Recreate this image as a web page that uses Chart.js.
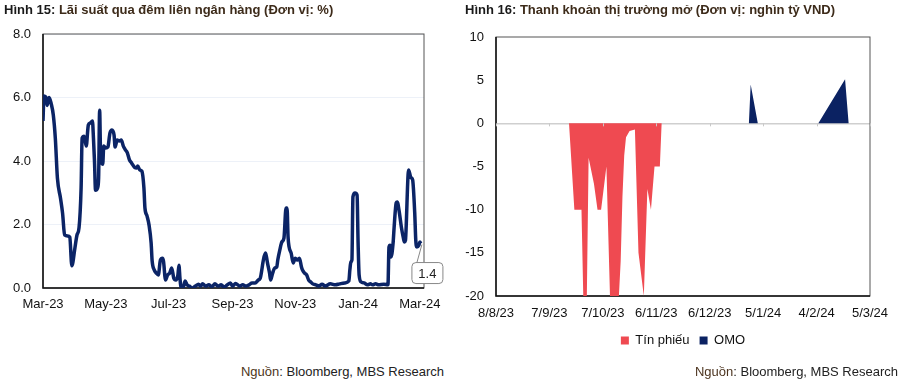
<!DOCTYPE html>
<html>
<head>
<meta charset="utf-8">
<script src="https://cdn.jsdelivr.net/npm/chart.js@4.4.1/dist/chart.umd.min.js"></script>
<style>
  body { margin: 0; width: 920px; height: 386px; background: #fff; position: relative; overflow: hidden;
         font-family: "Liberation Sans", Arial, sans-serif; }
  canvas { position: absolute; top: 0; }
  .title { position: absolute; top: 2px; font-weight: bold; font-size: 13px; color: #3d2b1a; white-space: nowrap; z-index: 2; }
  .title b { color: #1a1a1a; }
  .src { position: absolute; top: 364px; font-size: 13px; color: #222; white-space: nowrap; z-index: 2; }
  .src span { color: #4d3520; }
</style>
</head>
<body>
<canvas id="rate" width="460" height="330" style="left:0"></canvas>
<canvas id="flow" width="460" height="386" style="left:460px"></canvas>
<div class="title" style="left:4px"><b>Hình 15:</b> Lãi suất qua đêm liên ngân hàng (Đơn vị: %)</div>
<div class="title" style="left:465px"><b>Hình 16:</b> Thanh khoản thị trường mở (Đơn vị: nghìn tỷ VND)</div>
<div class="src" style="right:476px"><span>Nguồn</span>: Bloomberg, MBS Research</div>
<div class="src" style="right:22px"><span>Nguồn</span>: Bloomberg, MBS Research</div>
<script>
// Hình 15: interbank overnight rate, days counted from 1 Mar 2023
const RATE_START = '2023-03-01';
const rateDay = [0, 1, 3, 4, 6, 8, 10, 12, 14, 17, 19, 21, 24, 26, 28, 31, 33, 35, 37, 38,
  40, 42, 44, 46, 48, 49, 50, 51, 53, 54, 55, 56, 58, 59, 61, 63, 65, 67, 69, 70,
  72, 74, 76, 78, 80, 82, 84, 86, 89, 91, 92, 94, 96, 98, 99, 101, 103, 105, 106, 108,
  110, 112, 114, 116, 117, 119, 121, 123, 125, 127, 129, 131, 132, 133, 134, 136, 138, 140, 142, 145,
  148, 151, 153, 155, 158, 161, 164, 167, 170, 173, 176, 179, 182, 184, 187, 191, 194, 197, 200, 203,
  206, 209, 211, 212, 214, 216, 217, 218, 220, 221, 223, 225, 227, 228, 230, 232, 234, 236, 237, 238,
  239, 241, 243, 245, 247, 249, 251, 252, 254, 256, 258, 260, 262, 265, 268, 271, 274, 279, 284, 288,
  293, 297, 298, 299, 300, 301, 303, 305, 306, 307, 309, 312, 315, 318, 320, 323, 326, 331, 335, 336,
  337, 338, 340, 341, 343, 344, 346, 348, 350, 351, 352, 353, 354, 355, 357, 358, 359, 361, 362, 363,
  365, 366, 367];
const rateValue = [5.26, 6.05, 6.0, 5.75, 6.0, 5.8, 5.45, 4.7, 3.46, 2.83, 2.36, 1.67, 1.64, 1.6, 0.7, 1.26, 1.67, 1.9, 3.15, 4.72,
  4.78, 4.47, 5.13, 5.2, 5.26, 4.72, 4.0, 3.08, 3.15, 3.46, 5.6, 4.1, 3.9, 4.47, 4.41, 4.44, 4.88, 4.98, 4.82, 4.44,
  4.66, 4.63, 4.66, 4.47, 4.35, 4.25, 4.03, 3.94, 3.8, 3.78, 3.84, 3.72, 3.68, 3.15, 2.52, 2.27, 1.98, 1.42, 0.85, 0.57,
  0.47, 0.41, 0.88, 0.94, 0.85, 0.25, 0.41, 0.47, 0.63, 0.31, 0.25, 0.41, 0.72, 0.31, 0.03, 0.0, 0.22, 0.1, 0.06, 0.0,
  0.06, 0.12, 0.06, 0.13, 0.06, 0.1, 0.04, 0.13, 0.06, 0.1, 0.03, 0.1, 0.16, 0.06, 0.14, 0.06, 0.1, 0.06, 0.1, 0.16,
  0.16, 0.25, 0.31, 0.47, 0.88, 1.1, 0.98, 0.79, 0.47, 0.25, 0.47, 0.63, 0.66, 0.88, 1.2, 1.45, 1.57, 2.52, 2.52, 1.6,
  1.29, 1.1, 0.79, 0.94, 0.88, 0.94, 0.66, 0.57, 0.47, 0.41, 0.25, 0.19, 0.13, 0.1, 0.06, 0.12, 0.06, 0.13, 0.1, 0.13,
  0.16, 0.22, 0.57, 0.82, 0.88, 2.87, 2.99, 2.93, 1.42, 0.41, 0.19, 0.16, 0.1, 0.13, 0.1, 0.13, 0.1, 0.12, 0.1, 1.29,
  1.35, 0.98, 1.42, 1.92, 2.68, 2.71, 2.39, 1.92, 1.57, 1.45, 1.5, 2.2, 3.18, 3.72, 3.5, 3.46, 3.4, 2.36, 1.51, 1.29,
  1.35, 1.45, 1.4];
const rateTickDates = ['2023-03-01', '2023-05-01', '2023-07-01', '2023-09-01', '2023-11-01', '2024-01-01', '2024-03-01'];
const rateTickLabels = ['Mar-23', 'May-23', 'Jul-23', 'Sep-23', 'Nov-23', 'Jan-24', 'Mar-24'];
const rateYTicks = [0, 2, 4, 6, 8];
const rateLastLabel = '1.4';

// Hình 16: open market liquidity, days counted from 8 Aug 2023
const flowTickLabels = ['8/8/23', '7/9/23', '7/10/23', '6/11/23', '6/12/23', '5/1/24', '4/2/24', '5/3/24'];
const flowTickStep = 30;
const billDay = [0, 41, 44, 48, 49, 51, 52, 55, 57, 59, 62, 64, 69, 70, 71, 72, 73, 75, 78, 80, 83, 85, 87, 89, 92, 93, 210];
const billValue = [0, 0, -10, -10, -20, -20, -4, -7, -10, -10, -5, -20, -20, -16, -8.5, -3.7, -1.6, -0.9, -0.7, -15, -20, -7.6, -10, -5, -5, 0, 0];
const omoDay = [0, 142, 143, 147, 181, 196, 198, 210];
const omoValue = [0, 0, 4.5, 0, 0, 5.1, 0, 0];

const FONT = { family: '"Liberation Sans", Arial, sans-serif', size: 13 };
const toDay = iso => Math.round((Date.parse(iso) - Date.parse(RATE_START)) / 86400000);
const pts = (xs, ys) => xs.map((x, i) => ({ x, y: ys[i] }));

const framePlugin = {
  id: 'frame',
  beforeDatasetsDraw(chart) {
    const { ctx, chartArea: a } = chart;
    ctx.save();
    ctx.strokeStyle = '#555';
    ctx.lineWidth = 1;
    ctx.strokeRect(a.left, a.top, a.right - a.left, a.bottom - a.top);
    ctx.strokeStyle = '#111';
    ctx.lineWidth = 1.5;
    ctx.beginPath();
    ctx.moveTo(a.left, a.top);
    ctx.lineTo(a.left, a.bottom);
    ctx.lineTo(a.right, a.bottom);
    ctx.stroke();
    ctx.restore();
  }
};

const calloutPlugin = {
  id: 'callout',
  afterDatasetsDraw(chart) {
    const meta = chart.getDatasetMeta(0);
    const p = meta.data[meta.data.length - 1];
    const { ctx } = chart;
    const bx = p.x - 9, by = p.y + 19, bw = 31, bh = 21;
    ctx.save();
    ctx.strokeStyle = '#888';
    ctx.lineWidth = 1;
    ctx.beginPath();
    ctx.moveTo(p.x + 1, p.y + 1);
    ctx.lineTo(p.x - 4, by);
    ctx.stroke();
    ctx.fillStyle = '#fff';
    ctx.beginPath();
    ctx.roundRect(bx, by, bw, bh, 4);
    ctx.fill();
    ctx.stroke();
    ctx.fillStyle = '#222';
    ctx.font = '13px "Liberation Sans", Arial, sans-serif';
    ctx.textAlign = 'center';
    ctx.textBaseline = 'middle';
    ctx.fillText(rateLastLabel, bx + bw / 2, by + bh / 2 + 1);
    ctx.restore();
  }
};

new Chart(document.getElementById('rate'), {
  type: 'line',
  data: {
    datasets: [{
      data: pts(rateDay, rateValue),
      borderColor: '#0b2466',
      borderWidth: 3.5,
      pointRadius: 0,
      cubicInterpolationMode: 'monotone',
      borderJoinStyle: 'round',
      fill: false
    }]
  },
  options: {
    responsive: false,
    animation: false,
    layout: { padding: { top: 34, right: 36, left: 0, bottom: 12 } },
    scales: {
      x: {
        type: 'linear', min: 0, max: 370,
        afterBuildTicks: ax => { ax.ticks = rateTickDates.map(d => ({ value: toDay(d) })); },
        afterFit: s => { s.height = 30; },
        ticks: { autoSkip: false, maxRotation: 0, padding: 9, color: '#111', font: FONT,
                 callback: (v, i) => rateTickLabels[i] },
        grid: { display: false, drawTicks: false },
        border: { display: false }
      },
      y: {
        min: 0, max: 8,
        afterBuildTicks: ax => { ax.ticks = rateYTicks.map(v => ({ value: v })); },
        afterFit: s => { s.width = 43; },
        ticks: { padding: 12, color: '#111', font: FONT, callback: v => v.toFixed(1) },
        grid: { color: '#edf1f8', lineWidth: 1, drawTicks: false },
        border: { display: false }
      }
    },
    plugins: { legend: { display: false }, tooltip: { enabled: false } }
  },
  plugins: [framePlugin, calloutPlugin]
});

const zeroTicksPlugin = {
  id: 'zeroTicks',
  afterDatasetsDraw(chart) {
    const { ctx, scales: { x, y } } = chart;
    const y0 = y.getPixelForValue(0);
    ctx.save();
    ctx.strokeStyle = '#c8c8c8';
    ctx.lineWidth = 1;
    x.ticks.forEach(t => {
      const px = Math.round(x.getPixelForValue(t.value)) + 0.5;
      ctx.beginPath();
      ctx.moveTo(px, y0);
      ctx.lineTo(px, y0 + 3);
      ctx.stroke();
    });
    ctx.restore();
  }
};

new Chart(document.getElementById('flow'), {
  type: 'line',
  data: {
    datasets: [
      { label: 'Tín phiếu', data: pts(billDay, billValue), yAxisID: 'y', backgroundColor: '#ef4a51',
        borderColor: 'rgba(0,0,0,0)', borderWidth: 0, pointRadius: 0, tension: 0, fill: 'origin' },
      { label: 'OMO', data: pts(omoDay, omoValue), yAxisID: 'y', backgroundColor: '#0b2262',
        borderColor: 'rgba(0,0,0,0)', borderWidth: 0, pointRadius: 0, tension: 0, fill: 'origin' }
    ]
  },
  options: {
    responsive: false,
    animation: false,
    layout: { padding: { top: 37, right: 14, left: 0, bottom: 29 } },
    scales: {
      x: {
        type: 'linear', min: 0, max: flowTickStep * (flowTickLabels.length - 1),
        afterBuildTicks: ax => { ax.ticks = flowTickLabels.map((_, i) => ({ value: i * flowTickStep })); },
        afterFit: s => { s.height = 28; },
        ticks: { autoSkip: false, maxRotation: 0, padding: 10, color: '#111', font: FONT,
                 callback: (v, i) => flowTickLabels[i] },
        grid: { display: false, drawTicks: false },
        border: { display: false }
      },
      y: {
        min: -20, max: 10,
        ticks: { stepSize: 5, padding: 12, color: '#111', font: FONT },
        afterFit: s => { s.width = 36; },
        grid: { color: c => c.tick.value === 0 ? '#cfcfcf' : 'rgba(0,0,0,0)', lineWidth: 1.5, drawTicks: false },
        border: { display: false }
      },
      yPad: {
        position: 'right', display: true,
        ticks: { display: false },
        grid: { display: false, drawTicks: false },
        border: { display: false },
        afterFit: s => { s.width = 36; }
      }
    },
    plugins: {
      legend: { position: 'bottom', labels: { boxWidth: 8, boxHeight: 8, padding: 10, color: '#111', font: FONT } },
      tooltip: { enabled: false }
    }
  },
  plugins: [framePlugin, zeroTicksPlugin]
});
</script>
</body>
</html>
